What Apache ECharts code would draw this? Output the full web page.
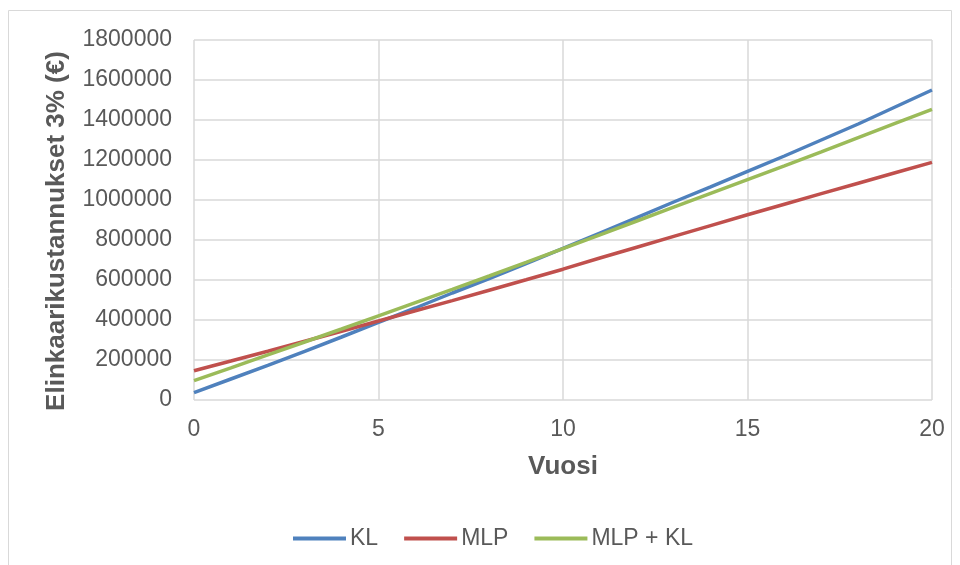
<!DOCTYPE html>
<html>
<head>
<meta charset="utf-8">
<script src="https://cdn.jsdelivr.net/npm/echarts@6/dist/echarts.min.js"></script>
<style>html,body{margin:0;padding:0;background:#fff}#c{width:960px;height:565px}</style>
</head>
<body>
<div id="c"></div>
<script>
var years = [0,1,2,3,4,5,6,7,8,9,10,11,12,13,14,15,16,17,18,19,20];
var KL = [36500,105000,173000,243000,315000,388000,460000,535000,607000,682000,758000,835000,912000,990000,1066000,1143000,1220000,1300000,1380000,1465000,1550000];
var MLP = [146500,195000,244000,294000,344000,395000,446000,497000,549000,601000,654000,710000,764000,818000,872000,926000,979000,1032000,1084000,1136000,1188000];
var MLP_KL = [96500,161000,226000,290000,355000,421000,487000,553000,620000,688000,757000,826000,895000,964000,1033000,1102000,1171000,1241000,1312000,1383000,1453500];
var seriesNames = ['KL','MLP','MLP + KL'];
var colors = ['#4F81BD','#C0504D','#9BBB59'];

function pairs(arr){ return years.map(function(y,i){ return [y, arr[i]]; }); }

var font = 'Arial, "Liberation Sans", sans-serif';
var chart = echarts.init(document.getElementById('c'));
chart.setOption({
  animation: false,
  textStyle: {fontFamily: font},
  graphic: [{type:'rect', shape:{x:8.5,y:10.5,width:943,height:570}, style:{fill:'none', stroke:'#d9d9d9', lineWidth:1}, silent:true}],
  grid: {left:194, right:28, top:40, bottom:165, containLabel:false},
  legend: {
    left: 288, top: 522,
    icon: 'rect',
    itemWidth: 53, itemHeight: 4, itemGap: 26,
    textStyle: {fontSize: 23, color:'#595959', fontFamily: font, padding:[0,0,0,-1]},
    data: seriesNames
  },
  xAxis: {
    type:'value', min:0, max:20, interval:5,
    name:'Vuosi', nameLocation:'middle', nameGap:54,
    nameTextStyle:{fontSize:26, fontWeight:'bold', color:'#595959', fontFamily: font},
    axisLine:{show:false}, axisTick:{show:false},
    axisLabel:{fontSize:23, color:'#595959', margin:18, fontFamily: font},
    splitLine:{show:true, lineStyle:{color:'#d9d9d9', width:1.5}}
  },
  yAxis: {
    type:'value', min:0, max:1800000, interval:200000,
    name:'Elinkaarikustannukset 3% (€)', nameLocation:'middle', nameGap:124,
    nameTextStyle:{fontSize:26, fontWeight:'bold', color:'#595959', fontFamily: font, padding:[0,22,0,0]},
    axisLine:{show:false}, axisTick:{show:false},
    axisLabel:{fontSize:23, color:'#595959', margin:22, fontFamily: font, formatter:function(v){return String(v);}},
    splitLine:{show:true, lineStyle:{color:'#d9d9d9', width:1.5}}
  },
  series: [
    {name:seriesNames[0], type:'line', data:pairs(KL), symbol:'none', lineStyle:{width:3.5, color:colors[0]}, itemStyle:{color:colors[0]}},
    {name:seriesNames[1], type:'line', data:pairs(MLP), symbol:'none', lineStyle:{width:3.5, color:colors[1]}, itemStyle:{color:colors[1]}},
    {name:seriesNames[2], type:'line', data:pairs(MLP_KL), symbol:'none', lineStyle:{width:3.5, color:colors[2]}, itemStyle:{color:colors[2]}}
  ]
});
</script>
</body>
</html>
